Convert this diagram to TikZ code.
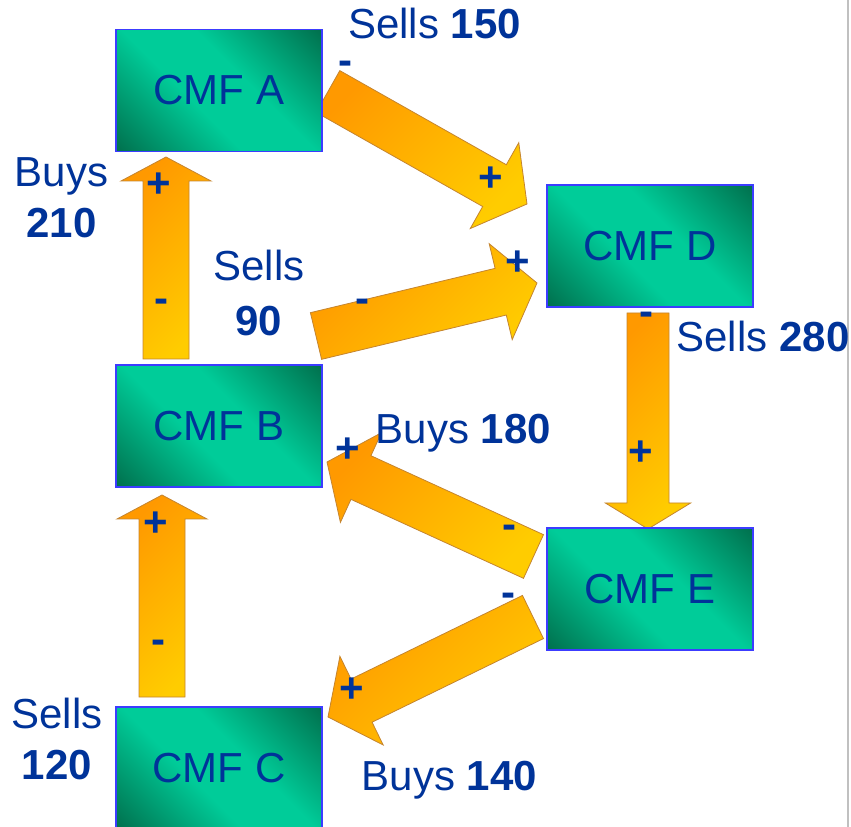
\documentclass[tikz,border=0pt]{standalone}
\usepackage{fontspec}
\setmainfont{Liberation Sans}
\usetikzlibrary{calc}

\definecolor{cmflight}{RGB}{0,204,153}
\definecolor{cmfdark}{RGB}{0,96,64}
\definecolor{cmfline}{RGB}{60,60,255}
\definecolor{cmftext}{RGB}{0,51,153}
\definecolor{flowtop}{RGB}{255,153,0}
\definecolor{flowbot}{RGB}{255,204,0}
\definecolor{flowline}{RGB}{196,132,48}
\definecolor{rulegray}{RGB}{192,192,192}

\pgfdeclarehorizontalshading{cmfglow}{100bp}{color(0bp)=(cmfdark); color(10bp)=(cmfdark);
 color(42bp)=(cmflight); color(58bp)=(cmflight); color(90bp)=(cmfdark); color(100bp)=(cmfdark)}

\newcommand\cmffont{\fontsize{31.5}{38.25}\selectfont}
% block arrow: tail, tip, half shaft, half head, head length
\newcommand\flowarrow[5]{%
 \draw[flow] ($(#1)!#3!90:(#2)$) -- ($(#2)!#5!(#1)!#3!-90:(#1)$)
  -- ($(#2)!#5!(#1)!#4!-90:(#1)$) -- (#2)
  -- ($(#2)!#5!(#1)!#4!90:(#1)$) -- ($(#2)!#5!(#1)!#3!90:(#1)$)
  -- ($(#1)!#3!-90:(#2)$) -- cycle;}

\begin{document}
\begin{tikzpicture}[x=0.75pt,y=-0.75pt,
 cmfbox/.style={draw=cmfline,line width=0.9pt,shade,shading=cmfglow,shading angle=45,
  minimum width=154.5pt,minimum height=91.5pt,inner sep=0pt,text=cmftext,font=\cmffont},
 flow/.style={draw=flowline,line width=0.6pt,top color=flowtop,bottom color=flowbot,shading angle=45},
 lbl/.style={text=cmftext,font=\cmffont,inner sep=0pt,align=center},
 sign/.style={text=cmftext,font=\cmffont\bfseries,inner sep=0pt}]
\useasboundingbox (0,0) rectangle (851,827);

% right page edge
\coordinate (rule-top) at (847.5,0);
\coordinate (rule-bot) at (847.5,827);
\draw[rulegray,line width=1.5pt] (rule-top) -- (rule-bot);

% arrow ends
\coordinate (ad-tail) at (328,91.5);  \coordinate (ad-tip) at (527,204);
\coordinate (bd-tail) at (316,336);   \coordinate (bd-tip) at (537,283);
\coordinate (eb-tail) at (533.5,556.5); \coordinate (eb-tip) at (327,462);
\coordinate (ec-tail) at (533,617);   \coordinate (ec-tip) at (328,717);
\coordinate (ba-tail) at (166,359);   \coordinate (ba-tip) at (166,157);
\coordinate (cb-tail) at (162,697);   \coordinate (cb-tip) at (162,495);
\coordinate (de-tail) at (648,313);   \coordinate (de-tip) at (648,529);

\flowarrow{ad-tail}{ad-tip}{18pt}{37pt}{28pt}
\flowarrow{bd-tail}{bd-tip}{18pt}{37pt}{28pt}
\flowarrow{eb-tail}{eb-tip}{18pt}{37pt}{28pt}
\flowarrow{ec-tail}{ec-tip}{18pt}{37pt}{28pt}
\flowarrow{ba-tail}{ba-tip}{17.25pt}{33.75pt}{18pt}
\flowarrow{cb-tail}{cb-tip}{17.25pt}{33.75pt}{18pt}
\flowarrow{de-tail}{de-tip}{15.75pt}{32pt}{19.5pt}

% funds
\node[cmfbox] (cmfA) at (219,90.5) {CMF A};
\node[cmfbox] (cmfD) at (650,246) {CMF D};
\node[cmfbox] (cmfB) at (219,426) {CMF B};
\node[cmfbox] (cmfE) at (650,589) {CMF E};
\node[cmfbox] (cmfC) at (219,768) {CMF C};

% trades
\node[lbl,anchor=base] (sells150) at (434.5,39) {Sells \textbf{150}};
\node[lbl,anchor=base] (sells280) at (763,352) {Sells \textbf{280}};
\node[lbl,anchor=base] (buys180) at (463.5,444) {Buys \textbf{180}};
\node[lbl,anchor=base] (buys140) at (449.5,790) {Buys \textbf{140}};
\node[lbl] (buys210) at (61.5,197.5) {Buys\\\textbf{210}};
\node[lbl] (sells90) at (259,293) {Sells\\[3pt]\textbf{90}};
\node[lbl] (sells120) at (57,739) {Sells\\\textbf{120}};

% signs
\node[sign] (ad-minus) at (345,68) {-};   \node[sign] (ad-plus) at (491,179) {+};
\node[sign] (ba-plus) at (159,185) {+};   \node[sign] (ba-minus) at (161,306) {-};
\node[sign] (bd-minus) at (362,306) {-};  \node[sign] (bd-plus) at (518,263) {+};
\node[sign] (de-minus) at (646,319) {-};  \node[sign] (de-plus) at (641,453) {+};
\node[sign] (eb-plus) at (348,450) {+};   \node[sign] (eb-minus) at (509,532) {-};
\node[sign] (ec-minus) at (508,600) {-};  \node[sign] (ec-plus) at (352,690) {+};
\node[sign] (cb-plus) at (156,524) {+};   \node[sign] (cb-minus) at (158,647) {-};
\end{tikzpicture}
\end{document}
